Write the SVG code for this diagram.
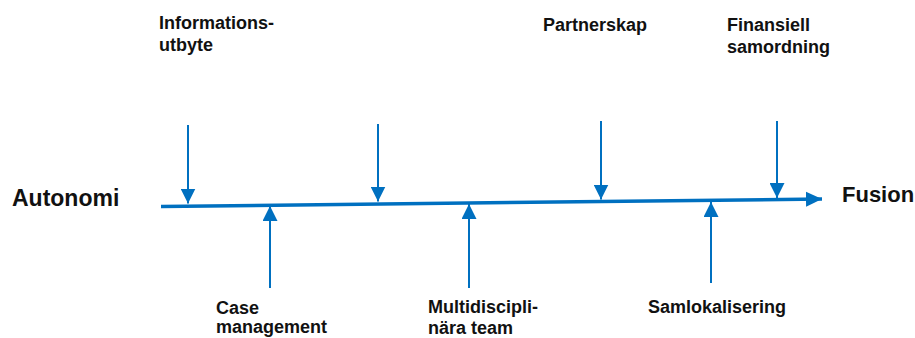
<svg xmlns="http://www.w3.org/2000/svg" width="915" height="338" viewBox="0 0 915 338">
<style>
.lbl{font-family:"Liberation Sans",Arial,sans-serif;font-weight:bold;font-size:18px;fill:#111}
.big{font-family:"Liberation Sans",Arial,sans-serif;font-weight:bold;font-size:22px;fill:#111}
.arr{stroke:#0070C0;stroke-width:2;fill:none;marker-end:url(#ah)}
.main{stroke:#0070C0;stroke-width:3.5;fill:none;marker-end:url(#ahm)}
</style>
<defs>
<marker id="ah" markerUnits="userSpaceOnUse" markerWidth="15" markerHeight="15" refX="15" refY="7.5" orient="auto">
<path d="M0,0 L15,7.5 L0,15 z" fill="#0070C0"/>
</marker>
<marker id="ahm" markerUnits="userSpaceOnUse" markerWidth="16" markerHeight="16" refX="16" refY="8" orient="auto">
<path d="M0,0.5 L16,8 L0,15.5 z" fill="#0070C0"/>
</marker>
</defs>
<rect width="915" height="338" fill="#fff"/>
<g id="connectors">
<line class="main" x1="161" y1="206.5" x2="822" y2="199"/>
<line class="arr" x1="188" y1="125" x2="188" y2="203.5"/>
<line class="arr" x1="378" y1="124" x2="378" y2="201.5"/>
<line class="arr" x1="601" y1="121" x2="601" y2="199.5"/>
<line class="arr" x1="777" y1="121" x2="777" y2="198"/>
<line class="arr" x1="270" y1="288" x2="270" y2="206"/>
<line class="arr" x1="469" y1="288" x2="469" y2="204"/>
<line class="arr" x1="711" y1="283" x2="711" y2="202"/>
</g>
<g id="autonomi"><text class="big" x="12" y="206" style="font-size:23px">Autonomi</text></g>
<g id="fusion"><text class="big" x="842" y="202">Fusion</text></g>
<g id="informationsutbyte"><text class="lbl" x="159" y="29">Informations-</text><text class="lbl" x="159" y="51">utbyte</text></g>
<g id="partnerskap"><text class="lbl" x="543" y="31">Partnerskap</text></g>
<g id="finansiell"><text class="lbl" x="727" y="31">Finansiell</text><text class="lbl" x="727" y="53">samordning</text></g>
<g id="case"><text class="lbl" x="216" y="314">Case</text><text class="lbl" x="216" y="333">management</text></g>
<g id="multi"><text class="lbl" x="428" y="313">Multidiscipli-</text><text class="lbl" x="428" y="334">nära team</text></g>
<g id="samlok"><text class="lbl" x="648" y="313">Samlokalisering</text></g>
</svg>
